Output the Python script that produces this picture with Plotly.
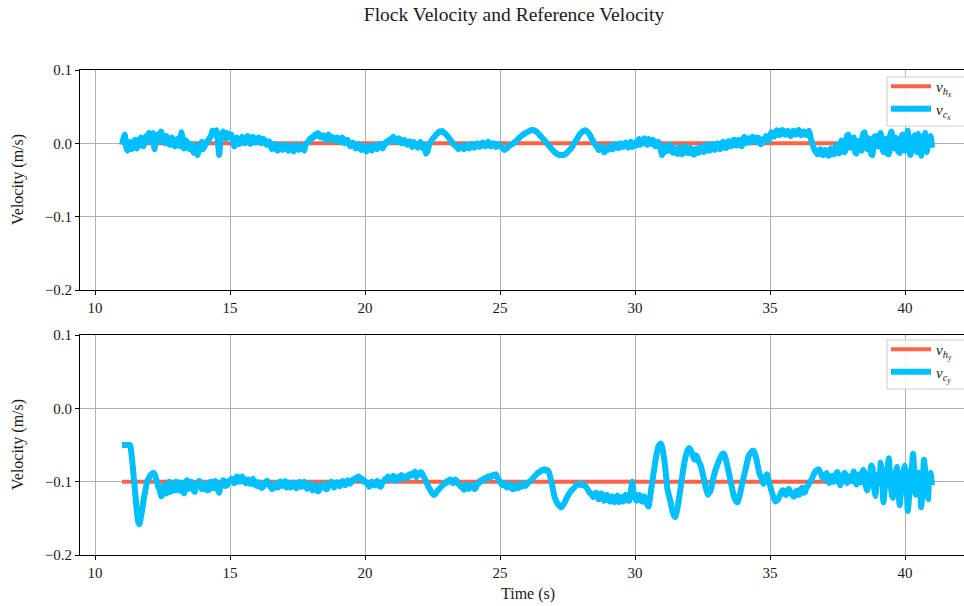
import plotly.graph_objects as go
from plotly.subplots import make_subplots

# Sampled every 0.05 s from t = 11.0 s; values in mm/s (one row per second)
t_start = 11.0
dt = 0.05

vcx_mm = [
    -2, 6, 12, -4, -10, -3, 2, -8, -6, 3, 5, -7, -3, 4, 8, -2, -4, 6, 10, 2,
    14, 9, 6, 14, -8, 3, 12, 7, 4, 16, 9, 2, 0, 10, 6, -1, -2, 8, 4, -4,
    -3, 6, 3, -4, 15, 5, -7, 4, 2, -6, -8, -1, -4, -13, -10, -3, -16, -9, -6, 2,
    -8, -4, -2, 3, 4, 8, 10, 17, 16, 12, 18, 2, -16, 5, 12, 16, 10, 6, 14, 11,
    8, 12, 5, -4, -2, 8, 4, -1, 1, 9, 6, 0, 3, 10, 7, -1, 2, 9, 6, 1,
    3, 8, 7, 0, 2, 6, 4, -2, 0, 3, -3, -8, -6, -1, -4, -10, -8, -2, -5, -9,
    -7, -2, -4, -10, -9, -3, -5, -11, -8, -2, -3, -9, -7, -4, -6, -10, -2, 1, 2, 6,
    5, 9, 8, 12, 10, 14, 12, 8, 9, 11, 7, 4, 10, 12, 6, 9, 8, 3, 5, 8,
    7, 2, 4, 8, 6, 0, 2, 5, 0, -4, -3, 1, -2, -7, -6, -1, -4, -9, -8, -3,
    -6, -11, -9, -4, -5, -10, -7, -2, -3, -8, -6, -1, -2, -7, -4, 1, 0, 4, 2, 6,
    4, 9, 6, 2, 3, 7, 5, 0, 1, 5, 3, -2, 0, 3, -2, -5, 2, -1, -3, -6,
    -1, 2, -4, -7, -2, -14, -12, -5, 0, 3, 6, 8, 10, 13, 14, 16, 16, 17, 15, 14,
    12, 10, 8, 5, 3, 0, -2, -4, -5, -8, -6, -3, -4, -8, -7, -2, -3, -7, -5, -1,
    -2, -6, -4, 0, -1, -5, -3, 1, 0, -4, -2, 2, 1, -4, -3, 0, -1, -5, -4, -1,
    -2, -5, -6, -9, -8, -7, -5, -3, -2, -1, 0, 2, 3, 5, 7, 9, 10, 12, 13, 14,
    15, 16, 17, 18, 18, 18, 17, 16, 14, 12, 10, 8, 6, 4, 2, 0, -3, -5, -7, -9,
    -11, -13, -14, -15, -16, -16, -16, -16, -15, -14, -12, -10, -8, -6, -3, 0, 3, 6, 9, 12,
    14, 16, 17, 18, 17, 15, 13, 10, 6, 3, 0, -3, -5, -9, -8, -4, -6, -12, -11, -6,
    -9, -5, -3, -8, -7, -1, -2, -6, -6, 0, -1, -5, -4, 1, -3, -6, 0, 2, -5, -1,
    1, -3, 3, 6, -2, 1, 4, 7, 0, -2, 6, 2, -1, 5, 3, -4, -3, 2, 0, -8,
    -16, -8, -4, -11, -10, -3, -2, -9, -13, -6, -8, -14, -14, -5, -9, -15, -12, -4, -6, -13,
    -13, -6, -9, -15, -15, -8, -7, -13, -11, -4, -5, -12, -10, -2, -3, -10, -8, -1, -4, -9,
    -7, 0, -1, -8, -5, 2, 0, -6, -6, 3, 2, -4, -3, 5, 4, -3, -2, 5, 1, -4,
    5, 9, 0, 4, 7, 1, 3, 9, 8, 2, 2, 8, 6, -1, 0, 6, 4, 10, 7, 3,
    10, 15, 14, 9, 12, 18, 16, 11, 13, 18, 17, 12, 12, 17, 15, 10, 11, 17, 16, 12,
    13, 18, 17, 11, 12, 16, 15, 11, 14, 17, 8, 2, -4, -9, -12, -15, -14, -8, -9, -16,
    -15, -9, -11, -17, -16, -7, -8, -15, -13, -2, -4, -14, -10, 4, 2, -12, -9, 10, 12, -5,
    -6, 6, 8, -12, -14, 2, 4, -9, -10, 13, 15, -4, -8, 7, 3, -15, -16, 8, 10, -3,
    -4, 10, 14, -6, -12, 3, 6, -14, -15, 11, 16, -5, -7, 8, 2, -11, -13, 6, 12, -8,
    -10, 4, 17, -2, -16, -6, 5, 11, -8, -12, 13, 2, -17, -4, 9, 14, -12, -3, 4, 10,
    -6,
]

vcy_mm = [
    -50, -50, -50, -50, -50, -50, -50, -62, -80, -100, -120, -140, -155, -158, -148, -138, -125, -115, -105, -98,
    -95, -91, -90, -88, -89, -95, -100, -108, -112, -120, -118, -106, -110, -116, -104, -100, -114, -108, -106, -112,
    -100, -108, -112, -101, -104, -113, -116, -103, -98, -110, -108, -100, -102, -112, -114, -104, -106, -99, -100, -110,
    -110, -103, -104, -112, -112, -101, -100, -109, -108, -99, -102, -111, -115, -104, -106, -98, -100, -106, -104, -99,
    -100, -96, -97, -102, -101, -93, -94, -100, -99, -93, -96, -101, -102, -97, -98, -103, -100, -96, -104, -100,
    -106, -101, -102, -108, -108, -102, -104, -99, -100, -106, -105, -110, -109, -103, -103, -108, -107, -100, -101, -106,
    -104, -99, -108, -102, -102, -108, -106, -101, -103, -109, -107, -101, -101, -107, -105, -100, -104, -110, -108, -103,
    -107, -112, -110, -104, -106, -113, -112, -106, -108, -103, -104, -110, -110, -105, -105, -100, -103, -108, -106, -101,
    -102, -106, -105, -99, -100, -104, -104, -98, -99, -103, -100, -97, -98, -95, -96, -93, -94, -98, -96, -100,
    -99, -102, -103, -107, -105, -100, -101, -105, -104, -99, -102, -107, -106, -100, -100, -96, -97, -93, -95, -98,
    -96, -92, -94, -99, -97, -93, -95, -91, -93, -96, -96, -92, -94, -90, -92, -89, -90, -86, -94, -91,
    -89, -87, -88, -92, -95, -99, -103, -107, -110, -114, -116, -118, -117, -114, -112, -110, -108, -106, -104, -102,
    -102, -99, -100, -97, -98, -102, -101, -97, -99, -103, -104, -107, -107, -111, -110, -104, -106, -110, -108, -105,
    -105, -110, -109, -104, -103, -99, -100, -97, -98, -95, -96, -93, -95, -92, -93, -91, -92, -90, -94, -97,
    -100, -103, -105, -102, -104, -108, -107, -103, -106, -110, -110, -105, -105, -109, -108, -104, -107, -103, -104, -106,
    -103, -101, -100, -98, -96, -94, -92, -90, -88, -87, -86, -84, -84, -83, -85, -84, -86, -92, -100, -108,
    -118, -124, -128, -131, -133, -135, -134, -131, -128, -124, -120, -117, -114, -112, -110, -108, -106, -104, -104, -103,
    -105, -103, -104, -106, -108, -111, -114, -116, -118, -121, -120, -115, -116, -124, -122, -116, -118, -126, -125, -118,
    -120, -126, -127, -120, -122, -128, -124, -119, -128, -123, -121, -127, -125, -118, -119, -126, -126, -112, -100, -115,
    -118, -126, -124, -118, -120, -127, -126, -120, -128, -131, -134, -124, -110, -98, -85, -73, -62, -54, -50, -48,
    -52, -62, -75, -92, -110, -118, -125, -134, -142, -147, -148, -140, -130, -118, -105, -92, -80, -70, -62, -57,
    -54, -56, -60, -66, -70, -64, -66, -72, -75, -80, -88, -96, -105, -112, -118, -115, -112, -104, -95, -88,
    -82, -77, -72, -68, -64, -62, -62, -68, -75, -84, -92, -101, -110, -118, -124, -127, -128, -122, -115, -106,
    -98, -90, -82, -74, -66, -62, -60, -58, -58, -63, -70, -79, -88, -93, -96, -103, -100, -92, -90, -98,
    -105, -112, -118, -123, -127, -126, -124, -120, -116, -112, -112, -117, -118, -112, -110, -116, -115, -120, -120, -114,
    -112, -118, -117, -110, -108, -115, -114, -108, -106, -102, -100, -96, -92, -88, -85, -84, -83, -87, -90, -95,
    -96, -91, -88, -98, -102, -95, -92, -100, -99, -90, -87, -97, -105, -99, -94, -88, -91, -102, -100, -93,
    -93, -99, -86, -95, -104, -96, -90, -101, -98, -84, -88, -106, -112, -100, -95, -78, -82, -108, -120, -100,
    -90, -102, -74, -88, -128, -110, -96, -84, -68, -92, -115, -122, -104, -90, -80, -110, -132, -114, -92, -84,
    -78, -95, -140, -122, -100, -80, -62, -90, -118, -108, -88, -104, -135, -112, -70, -86, -112, -124, -96, -88,
    -105,
]

ref_vx_mm = 0
ref_vy_mm = -100

x_ticks = [10, 15, 20, 25, 30, 35, 40]
y_ticks = [-0.2, -0.1, 0.0, 0.1]

time_x = [t_start + i * dt for i in range(len(vcx_mm))]
time_y = [t_start + i * dt for i in range(len(vcy_mm))]
vcx = [v / 1000.0 for v in vcx_mm]
vcy = [v / 1000.0 for v in vcy_mm]
t_ref = [time_x[0], time_x[-1]]

ORANGE = "#FF6347"
BLUE = "#00BFFF"
FONT = "Liberation Serif"
TXT = "#1a1a1a"

fig = make_subplots(rows=2, cols=1, vertical_spacing=0.0)

blue_line = dict(color=BLUE, width=6, shape="spline", smoothing=0.5)

fig.add_trace(go.Scatter(x=t_ref, y=[ref_vx_mm / 1000.0] * 2, mode="lines",
                         line=dict(color=ORANGE, width=4),
                         name="<i>v</i><sub><i>h<sub>x</sub></i></sub>", legend="legend"),
              row=1, col=1)
fig.add_trace(go.Scatter(x=time_x, y=vcx, mode="lines", line=blue_line,
                         name="<i>v</i><sub><i>c<sub>x</sub></i></sub>", legend="legend"),
              row=1, col=1)
fig.add_trace(go.Scatter(x=t_ref, y=[ref_vy_mm / 1000.0] * 2, mode="lines",
                         line=dict(color=ORANGE, width=4),
                         name="<i>v</i><sub><i>h<sub>y</sub></i></sub>", legend="legend2"),
              row=2, col=1)
fig.add_trace(go.Scatter(x=time_y, y=vcy, mode="lines", line=blue_line,
                         name="<i>v</i><sub><i>c<sub>y</sub></i></sub>", legend="legend2"),
              row=2, col=1)

# page coordinates (body margin removed below)
L, R_EDGE, T, B = 80, 964, 70, 555
W_plot = R_EDGE - L
H_plot = B - T
top_dom = [(B - 290) / H_plot, 1.0]
bot_dom = [0.0, (B - 335) / H_plot]

axis_common = dict(showline=True, linecolor="black", linewidth=1,
                   ticks="outside", ticklen=4, tickcolor="black",
                   showgrid=True, gridcolor="#b0b0b0", gridwidth=1,
                   zeroline=False,
                   tickfont=dict(family=FONT, size=15, color=TXT))

for r in (1, 2):
    fig.update_xaxes(range=[9.444, 42.185], tickvals=x_ticks, mirror=True,
                     row=r, col=1, **axis_common)
    fig.update_yaxes(range=[-0.2, 0.1], tickvals=y_ticks, tickformat=".1f",
                     row=r, col=1, **axis_common)


def px2paper(px, py):
    return (px - L) / W_plot, (B - py) / H_plot


ann = []
for text, px, py, ang in [("Velocity (m/s)", 18, 180, -90),
                          ("Velocity (m/s)", 18, 445, -90),
                          ("Time (s)", 528, 594, 0)]:
    ax_, ay_ = px2paper(px, py)
    ann.append(dict(text=text, textangle=ang, x=ax_, y=ay_, xref="paper", yref="paper",
                    xanchor="center", yanchor="middle", showarrow=False,
                    font=dict(family=FONT, size=16, color=TXT)))

# legend frames (legend itself is borderless)
shapes = []
for top_px, bot_px in [(77, 126), (340, 389)]:
    x0, y0 = px2paper(887, bot_px)
    x1, y1 = px2paper(990, top_px)
    shapes.append(dict(type="rect", xref="paper", yref="paper", x0=x0, x1=x1, y0=y0, y1=y1,
                       line=dict(color="#cccccc", width=1),
                       fillcolor="rgba(255,255,255,0.85)", layer="above"))

lg1x, lg1y = px2paper(886, 70)
lg2x, lg2y = px2paper(886, 333)

legend_common = dict(xanchor="left", yanchor="top", bgcolor="rgba(0,0,0,0)",
                     borderwidth=0, itemwidth=40,
                     font=dict(family=FONT, size=15, color=TXT))

fig.update_layout(
    yaxis=dict(domain=top_dom),
    yaxis2=dict(domain=bot_dom),
    width=964, height=606,
    margin=dict(l=L, r=964 - R_EDGE, t=T, b=606 - B, autoexpand=False),
    plot_bgcolor="white", paper_bgcolor="white",
    font=dict(family=FONT, size=15, color=TXT),
    title=dict(text="Flock Velocity and Reference Velocity",
               x=514 / 964, xanchor="center",
               y=1 - 14 / 606, yanchor="middle",
               font=dict(family=FONT, size=19.5, color=TXT)),
    legend=dict(x=lg1x, y=lg1y, **legend_common),
    legend2=dict(x=lg2x, y=lg2y, **legend_common),
    annotations=ann,
    shapes=shapes,
)

fig.write_html("out.html",
               config={"displayModeBar": False},
               post_script="document.body.style.margin='0';document.body.style.overflow='hidden';")
